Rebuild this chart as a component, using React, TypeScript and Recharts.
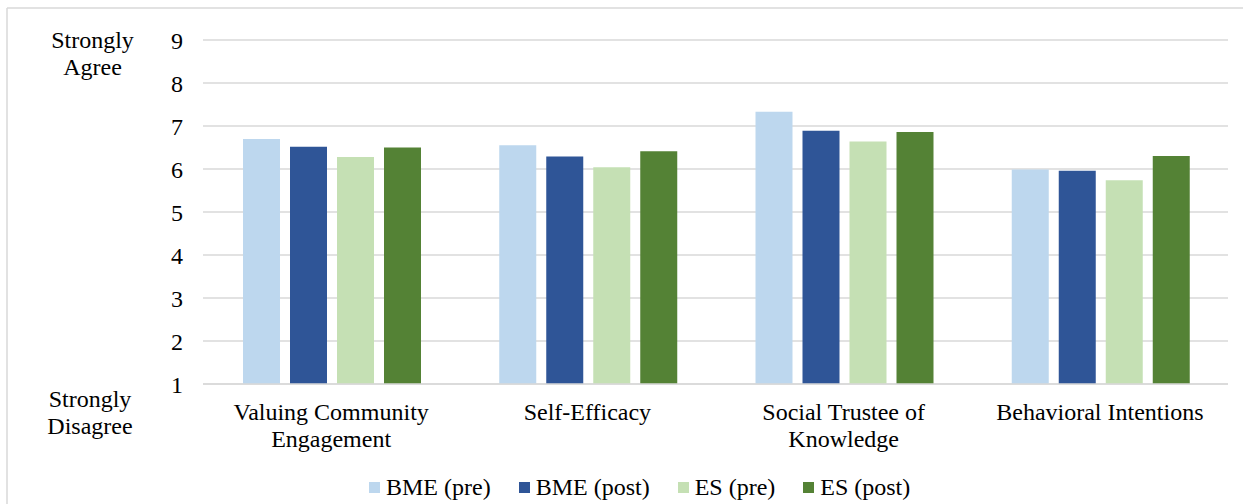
import React from "react";
import { BarChart, Bar, XAxis, YAxis, CartesianGrid, Legend, Customized } from "recharts";

const categories = ["Valuing Community\nEngagement", "Self-Efficacy", "Social Trustee of\nKnowledge", "Behavioral Intentions"];
const seriesNames = ["BME (pre)", "BME (post)", "ES (pre)", "ES (post)"];
const bmePre = [6.7, 6.55, 7.33, 5.99];
const bmePost = [6.52, 6.29, 6.89, 5.96];
const esPre = [6.28, 6.04, 6.64, 5.74];
const esPost = [6.5, 6.41, 6.86, 6.3];
const yTicks = [1, 2, 3, 4, 5, 6, 7, 8, 9];
const colors = ["#BDD7EE", "#2F5597", "#C5E0B4", "#548235"];
const keys = ["bmePre", "bmePost", "esPre", "esPost"];

const data = categories.map((c, i) => ({
  name: c,
  bmePre: bmePre[i],
  bmePost: bmePost[i],
  esPre: esPre[i],
  esPost: esPost[i],
}));

const FONT = '"Liberation Serif", "Times New Roman", serif';

const CategoryTick = (props: any) => {
  const { x, payload } = props;
  const lines = String(payload.value).split("\n");
  return (
    <text x={x} y={420} textAnchor="middle" fontFamily={FONT} fontSize={24} fill="#000">
      {lines.map((l: string, i: number) => (
        <tspan key={i} x={x} dy={i === 0 ? 0 : 27}>
          {l}
        </tspan>
      ))}
    </text>
  );
};

const LegendContent = () => (
  <div style={{ position: "relative", height: 30, width: 1253, fontFamily: FONT, fontSize: 24, color: "#000" }}>
    <div style={{ position: "absolute", left: 369, top: 0, display: "flex", alignItems: "center", height: 30 }}>
      {seriesNames.map((n, i) => (
        <div key={n} style={{ display: "flex", alignItems: "center", marginRight: 28 }}>
          <div style={{ width: 11, height: 11, background: colors[i], marginRight: 6 }} />
          <span style={{ lineHeight: "30px", whiteSpace: "nowrap" }}>{n}</span>
        </div>
      ))}
    </div>
  </div>
);

const Decor = () => (
  <g fontFamily={FONT} fontSize={24} fill="#000">
    <line x1={7} y1={8} x2={1243} y2={8} stroke="#d9d9d9" strokeWidth={1.5} />
    <line x1={7} y1={8} x2={7} y2={504} stroke="#d9d9d9" strokeWidth={1.5} />
    <text x={92.5} y={48} textAnchor="middle">Strongly</text>
    <text x={92.5} y={75} textAnchor="middle">Agree</text>
    <text x={90} y={407} textAnchor="middle">Strongly</text>
    <text x={90} y={434} textAnchor="middle">Disagree</text>
  </g>
);

export default function App() {
  return (
    <div style={{ position: "absolute", left: 0, top: 0, width: 1253, height: 504, background: "#fff" }}>
      <BarChart
        width={1253}
        height={504}
        data={data}
        margin={{ top: 40, right: 25, bottom: 2, left: 0 }}
        barCategoryGap={40}
        barGap={10}
      >
        <CartesianGrid vertical={false} stroke="#d9d9d9" strokeWidth={1.5} />
        <XAxis
          dataKey="name"
          height={88}
          axisLine={{ stroke: "#d9d9d9", strokeWidth: 1.5 }}
          tickLine={false}
          tick={<CategoryTick />}
          interval={0}
        />
        <YAxis
          domain={[1, 9]}
          ticks={yTicks}
          width={203}
          axisLine={false}
          tickLine={false}
          tickSize={0}
          tickMargin={20}
          tick={{ fontFamily: FONT, fontSize: 24, fill: "#000" }}
        />
        <Legend verticalAlign="bottom" content={<LegendContent />} wrapperStyle={{ left: 0, width: 1253 }} />
        {keys.map((k, i) => (
          <Bar key={k} dataKey={k} name={seriesNames[i]} fill={colors[i]} isAnimationActive={false} />
        ))}
        <Customized component={Decor} />
      </BarChart>
    </div>
  );
}
